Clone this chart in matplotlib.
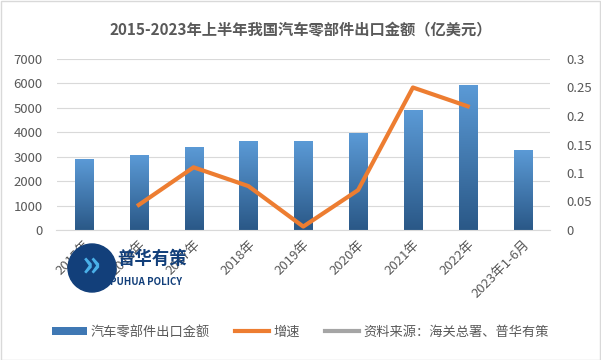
import numpy as np
import matplotlib
matplotlib.use("Agg")
import matplotlib.pyplot as plt
from matplotlib.lines import Line2D
from matplotlib.patches import Patch, Rectangle, Ellipse

plt.rcParams['font.family'] = ['Noto Sans CJK SC', 'DejaVu Sans']

categories = ['2015年', '2016年', '2017年', '2018年', '2019年', '2020年', '2021年', '2022年', '2023年1-6月']
export_value = [2900, 3030, 3360, 3640, 3640, 3930, 4910, 5930, 3270]
growth = [None, 0.044, 0.11, 0.077, 0.006, 0.07, 0.25, 0.217, None]

fig = plt.figure(figsize=(6.01, 3.6), dpi=100)
ax = fig.add_axes([56.5 / 601, 1 - 230 / 360, (550 - 56.5) / 601, 171 / 360])
ax2 = ax.twinx()

x = np.arange(len(categories))
bars = ax.bar(x, export_value, width=0.33, color='none', zorder=2)

# vertical gradient inside each bar
grad = np.linspace(0, 1, 256).reshape(-1, 1)
cmap = matplotlib.colors.LinearSegmentedColormap.from_list('b', ['#2a5887', '#5b9ad6'])
for b in bars:
    x0, w, h = b.get_x(), b.get_width(), b.get_height()
    ax.imshow(grad, extent=[x0, x0 + w, 0, h], origin='lower', cmap=cmap,
              aspect='auto', zorder=2)

ax.set_xlim(-0.5, len(categories) - 0.5)
ax.set_ylim(0, 7000)
ax.set_yticks(range(0, 7001, 1000))
ax.grid(axis='y', color='#d9d9d9', linewidth=0.8, zorder=0)
ax.set_axisbelow(True)

gx = [i for i, g in enumerate(growth) if g is not None]
gy = [g for g in growth if g is not None]
ax2.plot(gx, gy, color='#ed7d31', linewidth=3, zorder=3)
ax2.set_ylim(0, 0.3)
ax2.set_yticks([0, 0.05, 0.1, 0.15, 0.2, 0.25, 0.3])
ax2.set_yticklabels(['0', '0.05', '0.1', '0.15', '0.2', '0.25', '0.3'])

for a in (ax, ax2):
    for s in a.spines.values():
        s.set_visible(False)
    a.tick_params(length=0, labelsize=9.5, colors='#595959')
ax.spines['bottom'].set_visible(True)
ax.spines['bottom'].set_color('#d9d9d9')
ax.tick_params(axis='y', pad=10)
ax2.tick_params(axis='y', pad=12)

ax.set_xticks(x)
ax.set_xticklabels(categories, rotation=45, ha='right', rotation_mode='anchor')
ax.tick_params(axis='x', pad=6)

fig.text(0.5, 1 - 30 / 360, '2015-2023年上半年我国汽车零部件出口金额（亿美元）',
         ha='center', va='center', fontsize=11, fontweight='bold', color='#595959')

# watermark logo
fig.patches.append(Ellipse((92 / 601, 1 - 268 / 360), 48 / 601, 48 / 360,
                           transform=fig.transFigure, color='#123f7a', zorder=5))
fig.text(91 / 601, 1 - 266 / 360, '»', ha='center', va='center', fontsize=26,
         color='#4ab0e8', fontweight='bold', zorder=6)
fig.text(117 / 601, 1 - 259 / 360, '普华有策', ha='left', va='center', fontsize=12.5,
         color='#123f7a', fontweight='bold', zorder=6)
fig.text(110 / 601, 1 - 282 / 360, 'PUHUA POLICY', ha='left', va='center', fontsize=7,
         color='#123f7a', fontweight='bold', zorder=6)

handles = [Patch(facecolor='#3f78b4', edgecolor='none'),
           Line2D([0], [0], color='#ed7d31', linewidth=3),
           Line2D([0], [0], color='#a5a5a5', linewidth=3)]
labels = ['汽车零部件出口金额', '增速', '资料来源：海关总署、普华有策']
fig.legend(handles, labels, loc='center', bbox_to_anchor=(0.5, 1 - 332 / 360), ncol=3,
           frameon=False, fontsize=9.5, labelcolor='#595959', handlelength=2.6,
           handleheight=0.6, columnspacing=1.9, handletextpad=0.3)

fig.patches.append(Rectangle((0.001, 0.001), 0.997, 0.996, transform=fig.transFigure,
                             fill=False, edgecolor='#d9d9d9', linewidth=1))

fig.savefig('out.png', dpi=100, facecolor='white')
